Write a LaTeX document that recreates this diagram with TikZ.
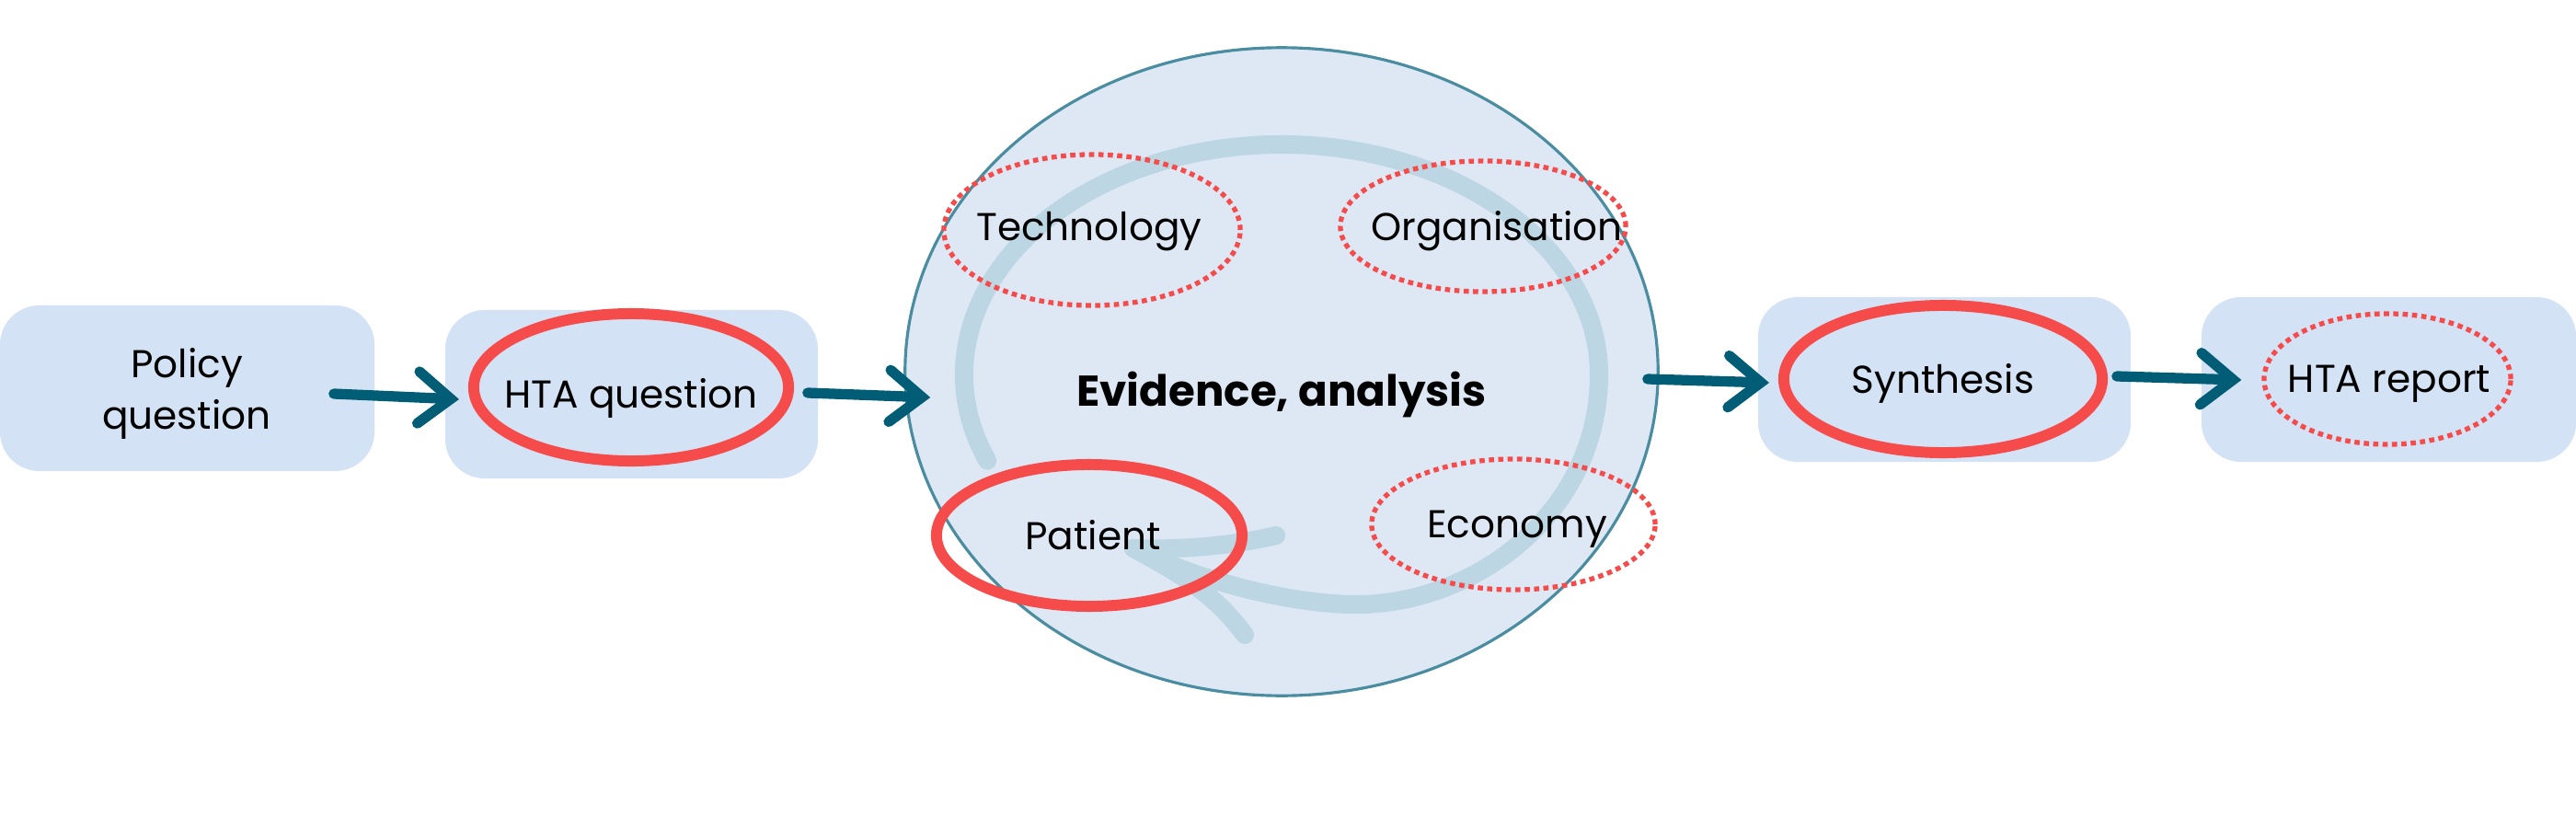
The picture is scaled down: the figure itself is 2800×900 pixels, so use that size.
\documentclass[tikz,border=0pt]{standalone}
\usepackage{fontspec}
\setmainfont{Poppins}
\usetikzlibrary{shapes.geometric,arrows.meta,calc}
\definecolor{boxfill}{HTML}{D3E2F4}
\definecolor{circfill}{HTML}{DEE8F5}
\definecolor{circline}{HTML}{4B8DA0}
\definecolor{arcc}{HTML}{BDD6E3}
\definecolor{redc}{HTML}{F64B4B}
\definecolor{arrowc}{HTML}{005D75}
\begin{document}
\begin{tikzpicture}[x=0.01cm,y=-0.01cm,
  box/.style={fill=boxfill, rounded corners=0.43cm, draw=none, inner sep=0pt},
  lbl/.style={font=\fontsize{12}{16}\selectfont, text=black, inner sep=0pt},
  thickring/.style={ellipse, draw=redc, line width=3.4pt, inner sep=0pt},
  dotring/.style={ellipse, draw=redc, line width=1.5pt, dash pattern=on 1.6pt off 1.3pt, inner sep=0pt},
  arcst/.style={draw=arcc, line width=5.7pt, line cap=round},
  arr/.style={draw=arrowc, line width=3.2pt, line cap=round, -{Straight Barb[length=10pt,width=16pt,line cap=round]}}
]
\useasboundingbox (0,0) rectangle (2800,900);
% boxes
\node[box, minimum width=4.07cm, minimum height=1.80cm] (policy) at (203.5,422) {};
\node[box, minimum width=4.05cm, minimum height=1.83cm] (htabox) at (686.5,428.5) {};
\node[box, minimum width=4.05cm, minimum height=1.79cm] (synbox) at (2113.5,412.5) {};
\node[box, minimum width=4.07cm, minimum height=1.79cm] (repbox) at (2596.5,412.5) {};
\node[lbl, align=center] (policyt) at (203,428) {Policy\\question};
% big circle
\node[ellipse, fill=circfill, draw=circline, line width=0.9pt, minimum width=8.18cm, minimum height=7.04cm, inner sep=0pt] (circ) at (1393,404) {};
% cycle arc
\coordinate (cyc) at (1393,407);
\coordinate (tip) at (1232,596);
\draw[arcst] (cyc) ++(158:345 and 250) arc[start angle=158, end angle=360, x radius=345, y radius=250]
  .. controls (1738,560) and (1600,657) .. (1475,657)
  .. controls (1400,657) and (1300,630) .. (tip);
\draw[arcst] (tip) .. controls (1290,598) and (1345,592) .. (1387,582);
\draw[arcst] (tip) .. controls (1280,622) and (1320,645) .. (1353,690);
% text in circle
\node[font=\fontsize{13.3}{16}\selectfont\bfseries] (evid) at (1393,429) {Evidence, analysis};
% rings
\node[thickring, minimum width=3.42cm, minimum height=1.60cm] (htaq) at (686,421) {};
\node[dotring, minimum width=3.22cm, minimum height=1.64cm] (tech) at (1187,250) {};
\node[dotring, minimum width=3.10cm, minimum height=1.42cm] (org) at (1612,246) {};
\node[thickring, minimum width=3.32cm, minimum height=1.54cm] (pat) at (1184,582) {};
\node[dotring, minimum width=3.08cm, minimum height=1.42cm] (econ) at (1645,570) {};
\node[thickring, minimum width=3.46cm, minimum height=1.60cm] (syn) at (2112,412) {};
\node[dotring, minimum width=2.68cm, minimum height=1.42cm] (rep) at (2595,412) {};
% labels
\node[lbl] (htaqt) at (686,433) {HTA question};
\node[lbl] (techt) at (1184,252) {Technology};
\node[lbl] (orgt) at (1627,251) {Organisation};
\node[lbl] (patt) at (1188,582) {Patient};
\node[lbl] (econt) at (1649,575) {Economy};
\node[lbl] (synt) at (2112,417) {Synthesis};
\node[lbl] (rept) at (2597,417) {HTA report};
% arrows
\draw[arr] ($(policy.east)+(-45,6)$) -- ($(htaq.west)+(-10,13)$);
\draw[arr] ($(htabox.east)+(-12,-1.5)$) -- ($(circ.west)+(29,28)$);
\draw[arr] ($(circ.east)+(-13,8)$) -- ($(syn.west)+(-10,4)$);
\draw[arr] ($(synbox.east)+(-16,-3.5)$) -- ($(rep.west)+(-22,1)$);
\end{tikzpicture}
\end{document}
